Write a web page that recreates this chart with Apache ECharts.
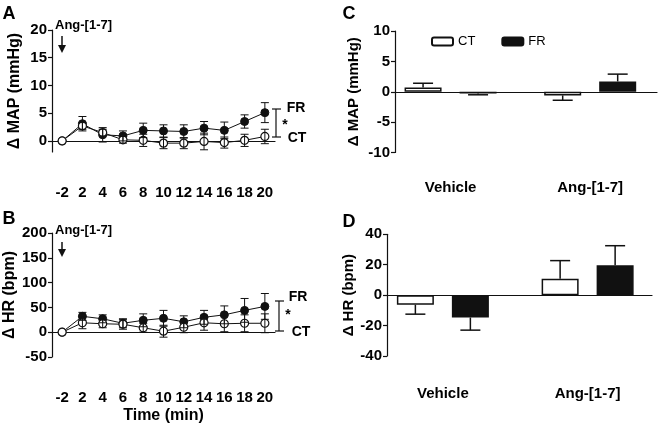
<!DOCTYPE html>
<html><head><meta charset="utf-8">
<script src="https://cdn.jsdelivr.net/npm/echarts@6/dist/echarts.min.js"></script>
<style>html,body{margin:0;padding:0;background:#fff}#c{width:660px;height:431px}</style>
</head><body><div id="c"></div>
<script>
// ---- data ----
var timeLabels = ['-2','2','4','6','8','10','12','14','16','18','20'];
var mapCT     = [0, 2.7, 1.5, 0.2, 0.1, -0.4, -0.4, -0.1, -0.3, 0.1, 0.8];
var mapCTsem  = [0, 0.6, 0.6, 0.6, 1.1, 1.0, 1.0, 1.5, 1.0, 1.1, 1.3];
var mapFR     = [0, 3.1, 1.1, 0.9, 1.9, 1.8, 1.7, 2.3, 1.9, 3.5, 5.1];
var mapFRsem  = [0, 1.3, 1.3, 0.9, 1.3, 1.1, 1.2, 1.2, 1.5, 1.2, 1.8];
var hrCT      = [0, 19, 17, 16, 9, 2, 10, 19, 17, 18, 18];
var hrCTsem   = [0, 12, 8, 10, 9, 12, 11, 15, 16, 17, 19];
var hrFR      = [0, 32, 27, 18, 24, 28, 21, 30, 35, 44, 52];
var hrFRsem   = [0, 8, 8, 9, 13, 16, 12, 14, 18, 24, 26];
var mapTicks  = [0, 5, 10, 15, 20];
var groups    = ['Vehicle', 'Ang-[1-7]'];
var barMapCT  = [0.7, -0.6];
var barMapCTsem = [0.7, 0.8];
var barMapFR  = [-0.3, 1.7];
var barMapFRsem = [0.2, 1.2];
var barHrCT   = [-6.3, 10.7];
var barHrCTsem = [6.2, 12];
var barHrFR   = [-14.7, 19.7];
var barHrFRsem = [8.3, 12.8];

var FONT = '"Liberation Sans", Arial, sans-serif';
var BLK = '#111';
var BAR_W = 37, BAR_GAP = 18;

function pts(vals, sems){ return vals.map(function(v,i){ return [i, v, sems[i]]; }); }

function errLine(params, api){
  var i = api.value(0), m = api.value(1), e = api.value(2);
  if (!e) return null;
  var t = api.coord([i, m + e]), b = api.coord([i, m - e]), w = 4;
  var st = {stroke: BLK, lineWidth: 1};
  return {type:'group', children:[
    {type:'line', shape:{x1:t[0],y1:t[1],x2:b[0],y2:b[1]}, style:st},
    {type:'line', shape:{x1:t[0]-w,y1:t[1],x2:t[0]+w,y2:t[1]}, style:st},
    {type:'line', shape:{x1:b[0]-w,y1:b[1],x2:b[0]+w,y2:b[1]}, style:st}
  ]};
}
function barErr(sign){
  return function(params, api){
    var i = api.value(0), m = api.value(1), e = api.value(2);
    var end = m >= 0 ? m + e : m - e;
    var p0 = api.coord([i, m]), p1 = api.coord([i, end]);
    var x = p0[0] + sign * (BAR_W + BAR_GAP) / 2, w = 10;
    var st = {stroke: BLK, lineWidth: 1.5};
    return {type:'group', children:[
      {type:'line', shape:{x1:x,y1:p0[1],x2:x,y2:p1[1]}, style:st},
      {type:'line', shape:{x1:x-w,y1:p1[1],x2:x+w,y2:p1[1]}, style:st}
    ]};
  };
}

var axLine = {show:true, lineStyle:{color:BLK, width:1.2}};
var tickSt = {show:true, length:4, lineStyle:{color:BLK, width:1.2}};
var lblSt = {color:'#000', fontFamily:FONT, fontWeight:'bold', fontSize:15};
var nameSt = {color:'#000', fontFamily:FONT, fontWeight:'bold', fontSize:16};

var chart = echarts.init(document.getElementById('c'), null, {renderer:'canvas'});

function lineSeries(name, gi, vals, open){
  return {
    type:'line', name:name, xAxisIndex:gi, yAxisIndex:gi, data:vals,
    symbol:'circle', symbolSize:8, z: open ? 4 : 3,
    lineStyle:{color:BLK, width:1},
    itemStyle: open ? {color:'#fff', borderColor:BLK, borderWidth:1.2} : {color:BLK, borderColor:BLK},
    emphasis:{disabled:true}
  };
}
function errSeries(gi, data){
  return {type:'custom', xAxisIndex:gi, yAxisIndex:gi, renderItem:errLine, data:data, encode:{x:0,y:1}, z:6, silent:true};
}

var option = {
  animation:false,
  backgroundColor:'#fff',
  legend:{
    data:['CT','FR'], left:426, top:30, itemWidth:21, itemHeight:8, itemGap:26,
    textStyle:{fontFamily:FONT, fontSize:13, color:'#000'}
  },
  grid:[
    {left:52, top:30, width:223, height:122},
    {left:52, top:233, width:223, height:124},
    {left:395, top:31, width:262, height:121.5},
    {left:380.75, top:31, width:295, height:121.5},
    {left:387, top:234.3, width:265, height:121.7},
    {left:370.5, top:234.3, width:298, height:121.7}
  ],
  xAxis:[
    {gridIndex:0, type:'category', data:timeLabels, boundaryGap:true, offset:26,
     axisLine:axLine, axisTick:{show:false}, axisLabel:Object.assign({interval:0, margin:7}, lblSt)},
    {gridIndex:1, type:'category', data:timeLabels, boundaryGap:true, offset:26,
     axisLine:axLine, axisTick:{show:false}, axisLabel:Object.assign({interval:0, margin:7}, lblSt),
     name:'Time (min)', nameLocation:'middle', nameGap:25, nameTextStyle:nameSt},
    {gridIndex:2, type:'value', min:0, max:1, axisLine:{show:true, onZero:true, lineStyle:{color:BLK, width:1.2}},
     axisTick:{show:false}, axisLabel:{show:false}, splitLine:{show:false}},
    {gridIndex:3, type:'category', data:groups, axisLine:{show:false}, axisTick:{show:false},
     axisLabel:Object.assign({margin:28}, lblSt)},
    {gridIndex:4, type:'value', min:0, max:1, axisLine:{show:true, onZero:true, lineStyle:{color:BLK, width:1.2}},
     axisTick:{show:false}, axisLabel:{show:false}, splitLine:{show:false}},
    {gridIndex:5, type:'category', data:groups, axisLine:{show:false}, axisTick:{show:false},
     axisLabel:Object.assign({margin:30}, lblSt)}
  ],
  yAxis:[
    {gridIndex:0, type:'value', min:-2, max:20, axisLine:axLine,
     axisTick:Object.assign({customValues:mapTicks}, tickSt),
     axisLabel:Object.assign({customValues:mapTicks, margin:5}, lblSt), splitLine:{show:false},
     name:'\u0394 MAP (mmHg)', nameLocation:'middle', nameGap:29, nameTextStyle:nameSt},
    {gridIndex:1, type:'value', min:-50, max:200, interval:50, axisLine:axLine, axisTick:tickSt,
     axisLabel:Object.assign({margin:5}, lblSt), splitLine:{show:false},
     name:'\u0394 HR (bpm)', nameLocation:'middle', nameGap:29, nameTextStyle:nameSt},
    {gridIndex:2, type:'value', min:-10, max:10, interval:5, axisLine:axLine, axisTick:tickSt,
     axisLabel:Object.assign({margin:5}, lblSt), splitLine:{show:false},
     name:'\u0394 MAP (mmHg)', nameLocation:'middle', nameGap:34,
     nameTextStyle:Object.assign({}, nameSt, {fontSize:15})},
    {gridIndex:3, type:'value', min:-10, max:10, show:false},
    {gridIndex:4, type:'value', min:-40, max:40, interval:20, axisLine:axLine, axisTick:tickSt,
     axisLabel:Object.assign({margin:5}, lblSt), splitLine:{show:false},
     name:'\u0394 HR (bpm)', nameLocation:'middle', nameGap:31,
     nameTextStyle:Object.assign({}, nameSt, {fontSize:15})},
    {gridIndex:5, type:'value', min:-40, max:40, show:false}
  ],
  series:[
    lineSeries('FR-A', 0, mapFR, false),
    lineSeries('CT-A', 0, mapCT, true),
    errSeries(0, pts(mapFR, mapFRsem)),
    errSeries(0, pts(mapCT, mapCTsem)),
    lineSeries('FR-B', 1, hrFR, false),
    lineSeries('CT-B', 1, hrCT, true),
    errSeries(1, pts(hrFR, hrFRsem)),
    errSeries(1, pts(hrCT, hrCTsem)),
    {type:'bar', name:'CT', xAxisIndex:3, yAxisIndex:3, data:barMapCT, barWidth:BAR_W, barGap:(BAR_GAP/BAR_W*100)+'%',
     itemStyle:{color:'#fff', borderColor:BLK, borderWidth:1.5}},
    {type:'bar', name:'FR', xAxisIndex:3, yAxisIndex:3, data:barMapFR, barWidth:BAR_W, barGap:(BAR_GAP/BAR_W*100)+'%',
     itemStyle:{color:BLK, borderColor:BLK, borderWidth:1.5}},
    {type:'custom', xAxisIndex:3, yAxisIndex:3, renderItem:barErr(-1), data:pts(barMapCT, barMapCTsem), encode:{x:0,y:1}, z:1},
    {type:'custom', xAxisIndex:3, yAxisIndex:3, renderItem:barErr(1), data:pts(barMapFR, barMapFRsem), encode:{x:0,y:1}, z:1},
    {type:'bar', name:'CT', xAxisIndex:5, yAxisIndex:5, data:barHrCT, barWidth:BAR_W, barGap:(BAR_GAP/BAR_W*100)+'%',
     itemStyle:{color:'#fff', borderColor:BLK, borderWidth:1.5}},
    {type:'bar', name:'FR', xAxisIndex:5, yAxisIndex:5, data:barHrFR, barWidth:BAR_W, barGap:(BAR_GAP/BAR_W*100)+'%',
     itemStyle:{color:BLK, borderColor:BLK, borderWidth:1.5}},
    {type:'custom', xAxisIndex:5, yAxisIndex:5, renderItem:barErr(-1), data:pts(barHrCT, barHrCTsem), encode:{x:0,y:1}, z:1},
    {type:'custom', xAxisIndex:5, yAxisIndex:5, renderItem:barErr(1), data:pts(barHrFR, barHrFRsem), encode:{x:0,y:1}, z:1}
  ],
  graphic:[]
};

function txt(x, y, s, size, weight, align){
  return {type:'text', x:x, y:y, style:{text:s, fontFamily:FONT, fontSize:size, fontWeight:weight||'bold',
    fill:'#000', align:align||'center', verticalAlign:'middle'}};
}
function arrow(x, y1, y2){
  return [
    {type:'line', shape:{x1:x,y1:y1,x2:x,y2:y2-6}, style:{stroke:BLK, lineWidth:1.5}},
    {type:'polygon', shape:{points:[[x-4,y2-8],[x+4,y2-8],[x,y2]]}, style:{fill:BLK}}
  ];
}
function bracket(x, y1, y2){
  var st = {stroke:BLK, lineWidth:1.2};
  return [
    {type:'line', shape:{x1:x,y1:y1,x2:x,y2:y2}, style:st},
    {type:'line', shape:{x1:x-4,y1:y1,x2:x+5,y2:y1}, style:st},
    {type:'line', shape:{x1:x-4,y1:y2,x2:x+5,y2:y2}, style:st}
  ];
}
var g = [];
g.push(txt(9, 14, 'A', 18));
g.push(txt(9, 219, 'B', 18));
g.push(txt(349, 14, 'C', 18));
g.push(txt(349, 222, 'D', 18));
g.push(txt(55, 25, 'Ang-[1-7]', 13, 'bold', 'left'));
g.push(txt(55, 230, 'Ang-[1-7]', 13, 'bold', 'left'));
g = g.concat(arrow(62, 36, 53), arrow(62, 242, 257));
g = g.concat(bracket(276, 109, 137), bracket(279, 301, 331));
g.push(txt(296, 108, 'FR', 14));
g.push(txt(285, 125, '*', 14));
g.push(txt(297, 138, 'CT', 14));
g.push(txt(298, 297, 'FR', 14));
g.push(txt(288, 315, '*', 14));
g.push(txt(301, 332, 'CT', 14));
option.graphic = g;
chart.setOption(option);
</script></body></html>
